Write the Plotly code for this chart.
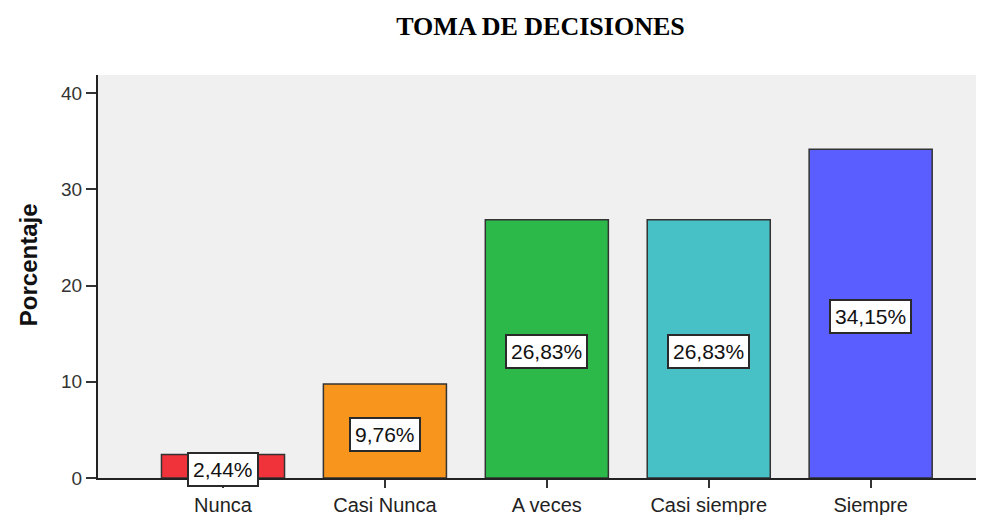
import plotly.graph_objects as go

categories = ["Nunca", "Casi Nunca", "A veces", "Casi siempre", "Siempre"]
values = [2.44, 9.76, 26.83, 26.83, 34.15]
labels = ["2,44%", "9,76%", "26,83%", "26,83%", "34,15%"]
colors = ["#F0323A", "#F7951D", "#2DB84A", "#47C1C6", "#5B5EFF"]

# The page body has an 8px margin, so the figure is sized/offset to compensate.
W, H = 976, 507

fig = go.Figure()
fig.add_trace(go.Bar(
    x=list(range(len(categories))), y=values,
    marker=dict(color=colors, line=dict(color="#333333", width=1.5)),
    width=0.76, hoverinfo="skip",
))

for i, (v, t) in enumerate(zip(values, labels)):
    fig.add_annotation(
        x=i, y=v / 2, text=t, showarrow=False, yshift=-3,
        font=dict(family="Arial, Liberation Sans", size=21, color="#111111"),
        bgcolor="white", bordercolor="#2a2a2a", borderwidth=2, borderpad=4,
    )

# y-axis title
fig.add_annotation(
    xref="paper", yref="paper", x=0, y=0.528, xanchor="center", yanchor="middle",
    xshift=-70, textangle=-90, showarrow=False, text="<b>Porcentaje</b>",
    font=dict(family="Arial, Liberation Sans", size=24, color="#111111"),
)

fig.update_layout(
    width=W, height=H,
    margin=dict(l=90, r=0, t=67, b=37, autoexpand=False),
    paper_bgcolor="white", plot_bgcolor="#F0F0F0",
    showlegend=False,
    title=dict(text="<b>TOMA DE DECISIONES</b>", x=532.5 / W, xanchor="center",
               y=1 - 18 / H, yanchor="middle",
               font=dict(family="Liberation Serif, Times New Roman", size=26, color="black")),
    xaxis=dict(
        range=[-0.772, 4.70], tickmode="array", tickvals=list(range(len(categories))),
        ticktext=categories, ticks="outside", ticklen=8, tickcolor="#333333", tickwidth=1.5,
        showline=True, linecolor="#222222", linewidth=1.5, showgrid=False, zeroline=False,
        tickfont=dict(family="Arial, Liberation Sans", size=20, color="#222222"),
    ),
    yaxis=dict(
        range=[0, 41.87], tickvals=[0, 10, 20, 30, 40], ticks="outside", ticklen=10,
        tickcolor="#333333", tickwidth=1.5,
        showline=True, linecolor="#222222", linewidth=2, showgrid=False, zeroline=False,
        tickfont=dict(family="Arial, Liberation Sans", size=19, color="#333333"),
    ),
)

fig.write_html("out.html")
